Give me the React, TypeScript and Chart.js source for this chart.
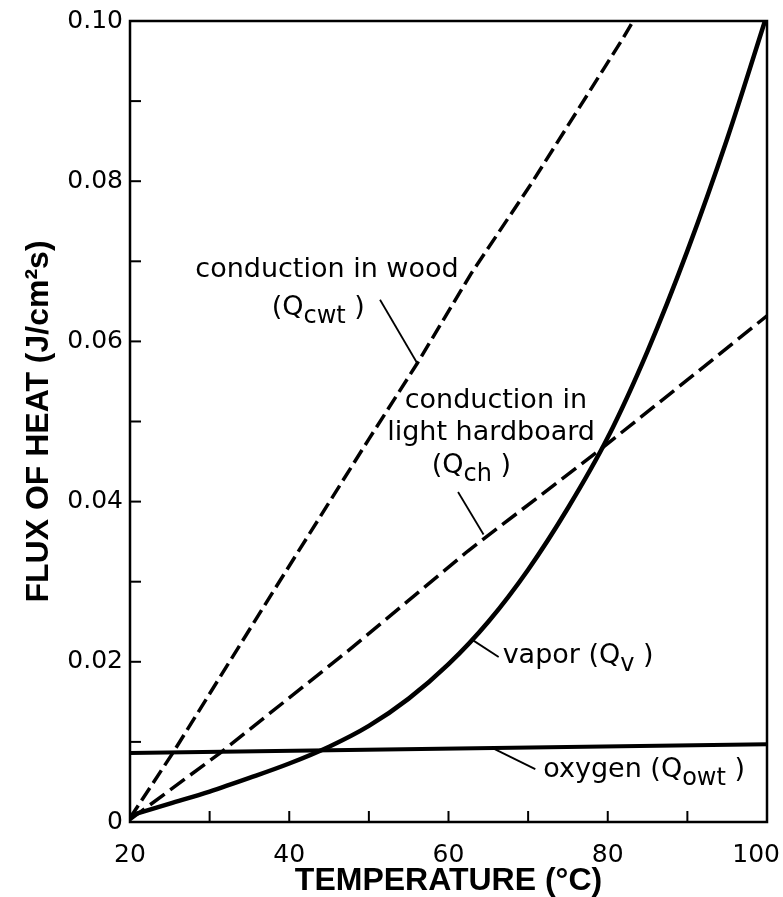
import React, { useEffect, useRef } from 'react';
import { Chart, registerables } from 'chart.js';

Chart.register(...registerables);

// ---- data (temperature °C, heat flux J/cm²s) ----
const woodT = [20, 25.3, 38, 50, 56.1, 62.8, 70.4, 81.7, 83.2];
const woodQ = [0.0005, 0.0085, 0.0288, 0.0478, 0.0573, 0.0684, 0.0797, 0.0975, 0.1];

const boardT = [20, 31.3, 47.3, 62.4, 78.8, 91.4, 100];
const boardQ = [0.0003, 0.0086, 0.0213, 0.0338, 0.0463, 0.0563, 0.0632];

const vaporT = [20, 25, 30, 35, 40, 45, 50, 55, 60, 65, 70, 75, 80, 85, 90, 95, 100];
const vaporQ = [0.0008, 0.0023, 0.0038, 0.0055, 0.0073, 0.0094, 0.012, 0.0154, 0.0197, 0.025, 0.0315, 0.0392, 0.048, 0.0588, 0.0713, 0.0853, 0.1008];

const oxygenT = [20, 100];
const oxygenQ = [0.0086, 0.0097];

const xTickValues = [20, 40, 60, 80, 100];
const xTickLabels = ['20', '40', '60', '80', '100'];
const xMinorTicks = [20, 30, 40, 50, 60, 70, 80, 90, 100];
const yTickValues = [0, 0.02, 0.04, 0.06, 0.08, 0.1];
const yTickLabels = ['0', '0.02', '0.04', '0.06', '0.08', '0.10'];
const yMinorTicks = [0, 0.01, 0.02, 0.03, 0.04, 0.05, 0.06, 0.07, 0.08, 0.09, 0.1];

const xTitle = 'TEMPERATURE (°C)';
const yTitle = 'FLUX OF HEAT (J/cm²s)';

// annotation texts (anchored in data units: left edge T, baseline Q)
type Part = { t: string; sub?: boolean };
const notes: { parts: Part[]; T: number; Q: number }[] = [
  { parts: [{ t: 'conduction in wood' }], T: 28.2, Q: 0.068 },
  { parts: [{ t: '(Q' }, { t: 'cwt', sub: true }, { t: ' )' }], T: 37.8, Q: 0.0633 },
  { parts: [{ t: 'conduction in' }], T: 54.5, Q: 0.0517 },
  { parts: [{ t: 'light hardboard' }], T: 52.3, Q: 0.0477 },
  { parts: [{ t: '(Q' }, { t: 'ch', sub: true }, { t: ' )' }], T: 57.9, Q: 0.0436 },
  { parts: [{ t: 'vapor (Q' }, { t: 'v', sub: true }, { t: ' )' }], T: 66.8, Q: 0.0199 },
  { parts: [{ t: 'oxygen (Q' }, { t: 'owt', sub: true }, { t: ' )' }], T: 71.9, Q: 0.0056 },
];
const leaders: [number, number, number, number][] = [
  [51.4, 0.0652, 56.0, 0.0574],
  [61.2, 0.0412, 64.4, 0.0359],
  [62.9, 0.0228, 66.3, 0.0206],
  [65.8, 0.0091, 70.9, 0.0066],
];

const pts = (xs: number[], ys: number[]) => xs.map((x, i) => ({ x, y: ys[i] }));

const decorPlugin = {
  id: 'decor',
  afterDatasetsDraw(chart: any) {
    const { ctx, chartArea, scales, width } = chart;
    const { left, right, top, bottom } = chartArea;
    const x = scales.x;
    const y = scales.y;
    ctx.save();
    ctx.strokeStyle = '#000';
    ctx.fillStyle = '#000';
    ctx.lineWidth = 2.5;
    ctx.strokeRect(left, top, right - left, bottom - top);
    ctx.lineWidth = 2;
    xMinorTicks.forEach((v) => {
      const px = x.getPixelForValue(v);
      ctx.beginPath();
      ctx.moveTo(px, bottom);
      ctx.lineTo(px, bottom - 11);
      ctx.stroke();
    });
    yMinorTicks.forEach((v) => {
      const py = y.getPixelForValue(v);
      ctx.beginPath();
      ctx.moveTo(left, py);
      ctx.lineTo(left + 11, py);
      ctx.stroke();
    });
    // x tick labels (kept inside the canvas)
    ctx.font = '25px "DejaVu Sans"';
    ctx.textAlign = 'left';
    ctx.textBaseline = 'middle';
    xTickValues.forEach((v, i) => {
      const w = ctx.measureText(xTickLabels[i]).width;
      let px = x.getPixelForValue(v) - w / 2;
      if (px + w > width - 3) px = width - 3 - w;
      ctx.fillText(xTickLabels[i], px, bottom + 33);
    });
    // leaders
    ctx.lineWidth = 1.8;
    leaders.forEach(([t1, q1, t2, q2]) => {
      ctx.beginPath();
      ctx.moveTo(x.getPixelForValue(t1), y.getPixelForValue(q1));
      ctx.lineTo(x.getPixelForValue(t2), y.getPixelForValue(q2));
      ctx.stroke();
    });
    // texts
    ctx.textAlign = 'left';
    ctx.textBaseline = 'alphabetic';
    notes.forEach((n) => {
      let px = x.getPixelForValue(n.T);
      const py = y.getPixelForValue(n.Q);
      n.parts.forEach((p) => {
        ctx.font = p.sub ? '24px "DejaVu Sans"' : '27px "DejaVu Sans"';
        ctx.fillText(p.t, px, p.sub ? py + 8 : py);
        px += ctx.measureText(p.t).width;
      });
    });
    ctx.restore();
  },
};

export default function App() {
  const ref = useRef<HTMLCanvasElement>(null);
  useEffect(() => {
    if (!ref.current) return;
    const chart = new Chart(ref.current, {
      type: 'line',
      data: {
        datasets: [
          {
            label: 'conduction in wood',
            data: pts(woodT, woodQ),
            borderColor: '#000',
            borderWidth: 3.5,
            borderDash: [15, 6],
            pointRadius: 0,
            tension: 0,
          },
          {
            label: 'conduction in light hardboard',
            data: pts(boardT, boardQ),
            borderColor: '#000',
            borderWidth: 3.5,
            borderDash: [18, 7],
            pointRadius: 0,
            tension: 0,
          },
          {
            label: 'vapor',
            data: pts(vaporT, vaporQ),
            borderColor: '#000',
            borderWidth: 4.5,
            pointRadius: 0,
            cubicInterpolationMode: 'monotone',
          },
          {
            label: 'oxygen',
            data: pts(oxygenT, oxygenQ),
            borderColor: '#000',
            borderWidth: 4,
            pointRadius: 0,
          },
        ],
      },
      options: {
        animation: false,
        responsive: false,
        layout: { padding: { left: 0, right: 16, top: 21, bottom: 0 } },
        plugins: { legend: { display: false }, tooltip: { enabled: false } },
        scales: {
          x: {
            type: 'linear',
            min: 20,
            max: 100,
            afterBuildTicks: (s: any) => {
              s.ticks = xTickValues.map((v) => ({ value: v }));
            },
            ticks: { display: false },
            grid: { display: false, drawTicks: false },
            border: { display: false },
            title: {
              display: true,
              text: xTitle,
              color: '#000',
              font: { family: 'Liberation Sans', size: 32, weight: 'bold', lineHeight: 1 },
              padding: { top: 0, bottom: 0 },
            },
            afterFit: (s: any) => {
              s.height = 75;
              s.paddingLeft = 0;
              s.paddingRight = 0;
            },
          },
          y: {
            type: 'linear',
            min: 0,
            max: 0.1,
            afterBuildTicks: (s: any) => {
              s.ticks = yTickValues.map((v) => ({ value: v }));
            },
            ticks: {
              color: '#000',
              font: { family: 'DejaVu Sans', size: 25 },
              padding: 7,
              callback: (v: any) => {
                const i = yTickValues.findIndex((t) => Math.abs(t - Number(v)) < 1e-9);
                return i >= 0 ? yTickLabels[i] : '';
              },
            },
            grid: { display: false, drawTicks: false },
            border: { display: false },
            title: {
              display: true,
              text: yTitle,
              color: '#000',
              font: { family: 'Liberation Sans', size: 32, weight: 'bold' },
              padding: { top: 20, bottom: 0 },
            },
            afterFit: (s: any) => {
              s.width = 130;
              s.paddingTop = 0;
              s.paddingBottom = 0;
            },
          },
        },
      } as any,
      plugins: [decorPlugin],
    });
    return () => chart.destroy();
  }, []);
  return (
    <div style={{ position: 'fixed', left: 0, top: 0, width: 783, height: 897, background: '#fff' }}>
      <canvas ref={ref} width={783} height={897} style={{ display: 'block' }} />
    </div>
  );
}
